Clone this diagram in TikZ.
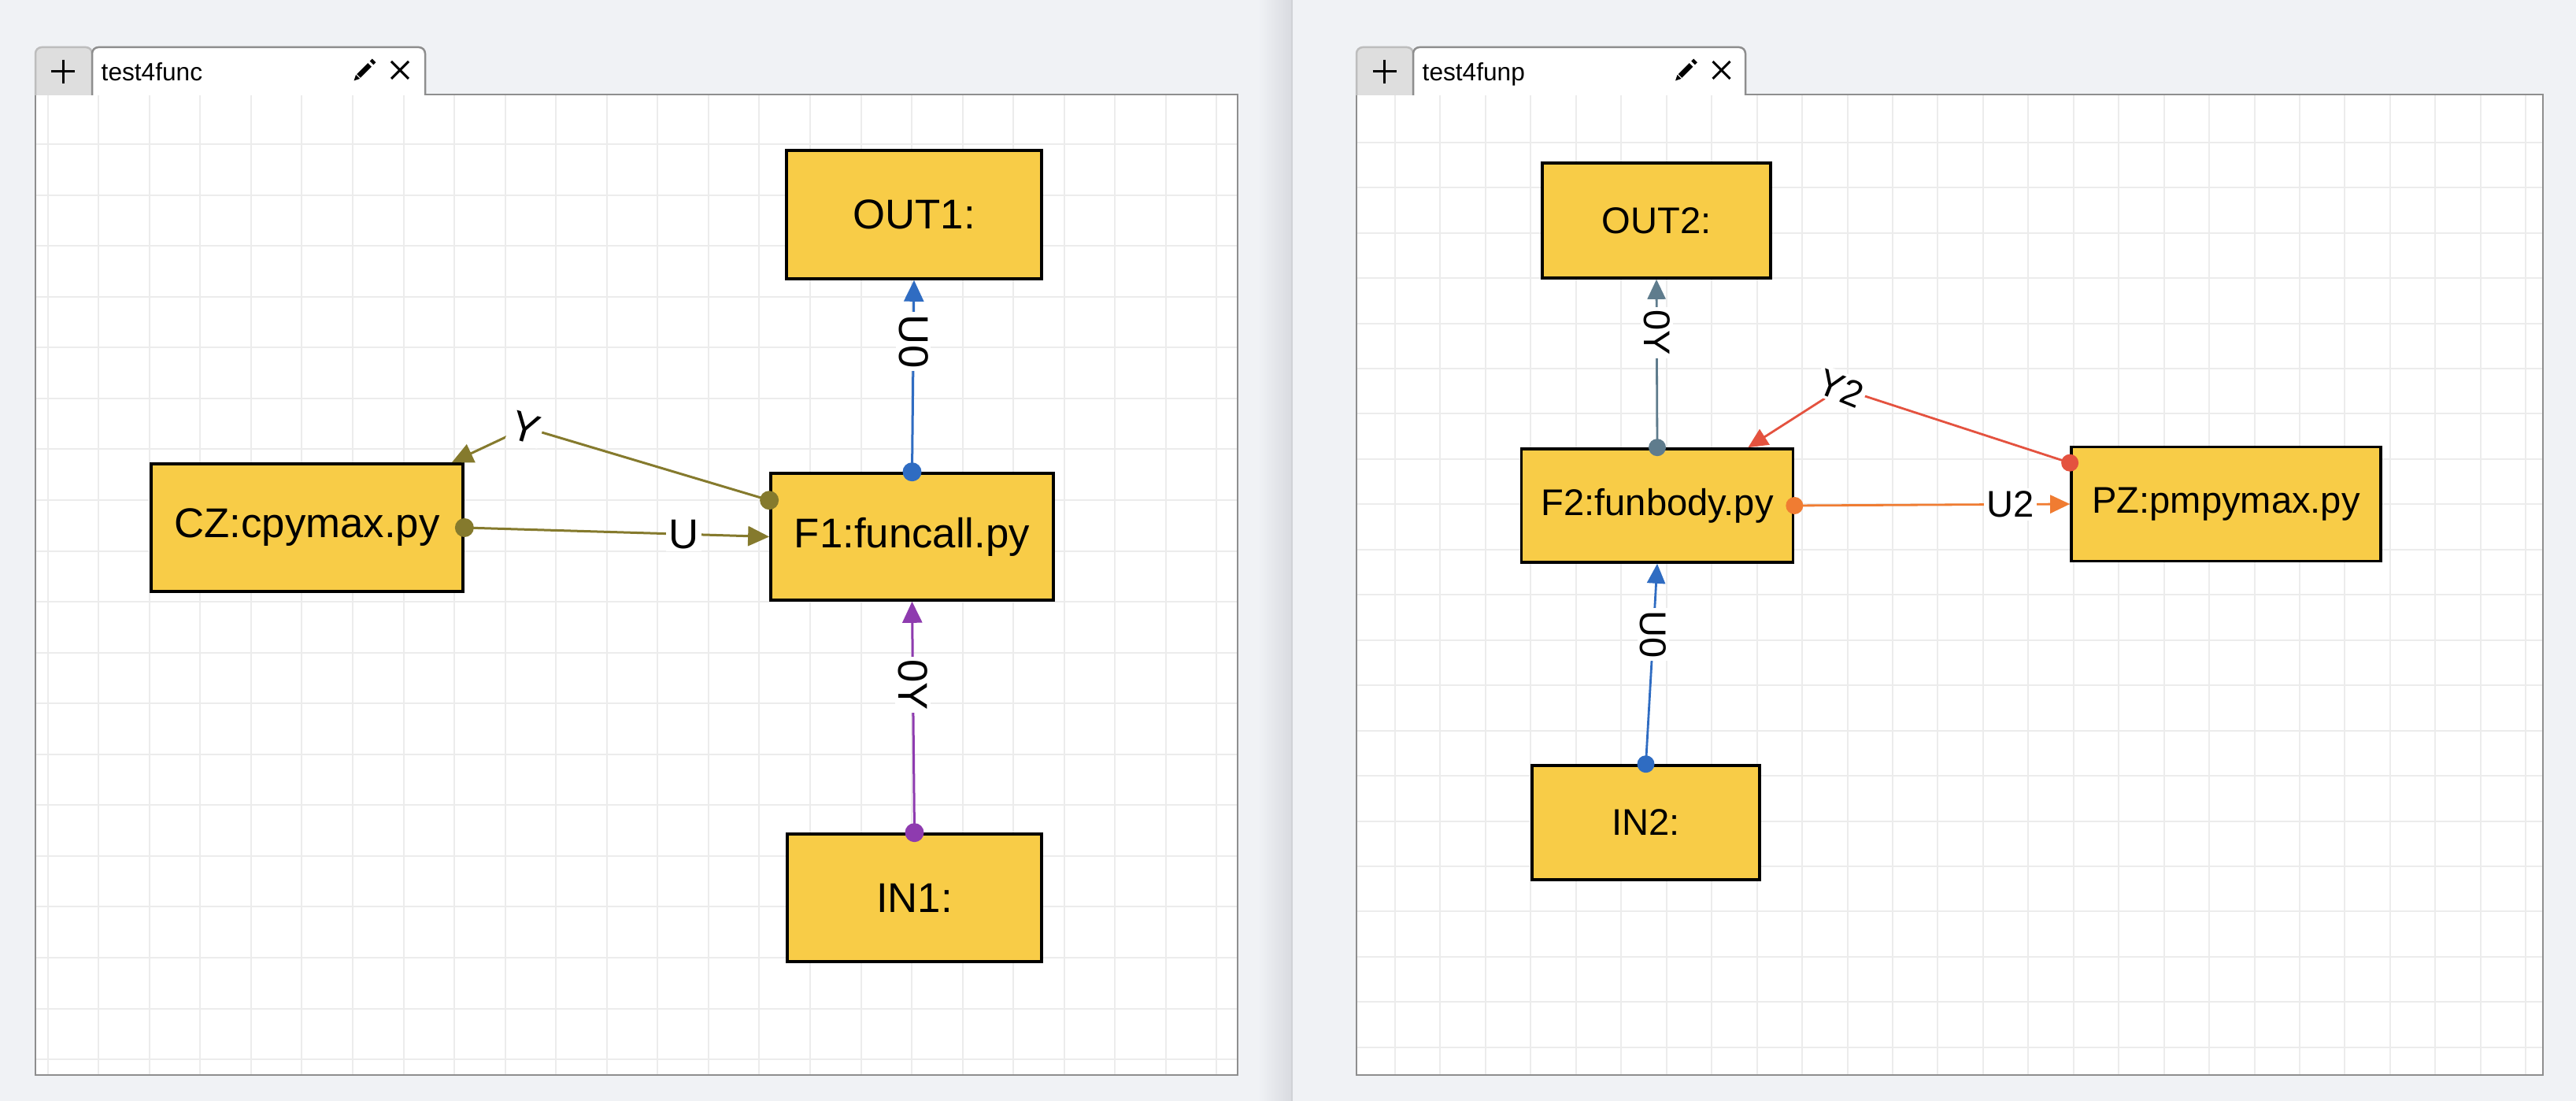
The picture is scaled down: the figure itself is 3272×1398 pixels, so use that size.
\documentclass[tikz,border=0pt]{standalone}
\usepackage{fontspec}
\setmainfont{Liberation Sans}
\usetikzlibrary{arrows.meta,calc}
\definecolor{bgc}{HTML}{F0F2F5}
\definecolor{divc}{HTML}{D9DBE0}
\definecolor{divline}{HTML}{D0D2D6}
\definecolor{gridc}{HTML}{ECECEC}
\definecolor{panelc}{HTML}{8E8E8E}
\definecolor{btnc}{HTML}{DEDEDE}
\definecolor{btnb}{HTML}{BDBDBD}
\definecolor{nodefill}{HTML}{F8CC47}
\definecolor{blueC}{HTML}{2F6CC2}
\definecolor{purpleC}{HTML}{8E3BAF}
\definecolor{oliveC}{HTML}{857A2D}
\definecolor{slateC}{HTML}{5F7C8D}
\definecolor{orangeC}{HTML}{F07C32}
\definecolor{redC}{HTML}{E4523F}
\begin{document}
\begin{tikzpicture}[x=0.01cm,y=-0.01cm,
  blk/.style={draw=black,line width=0.035cm,fill=nodefill,inner sep=0pt,font=\fontsize{15}{18}\selectfont},
  blkR/.style={blk,font=\fontsize{13.4}{16}\selectfont},
  conn/.style={line width=0.03cm,-{Triangle[length=0.27cm,width=0.25cm]}},
  connR/.style={line width=0.028cm,-{Triangle[length=0.25cm,width=0.23cm]}},
  lbl/.style={fill=white,inner sep=0.035cm,text=black,font=\fontsize{15}{18}\selectfont},
  lblR/.style={lbl,font=\fontsize{13.4}{16}\selectfont},
  gridline/.style={draw=gridc,line width=0.02cm},
  tabtext/.style={anchor=base west,inner sep=0pt,text=black,font=\fontsize{9}{11}\selectfont},
  panelline/.style={draw=panelc,line width=0.025cm},
]
\useasboundingbox (0,0) rectangle (3272,1398);
\fill[bgc] (0,0) rectangle (3272,1398);
\shade[left color=bgc,right color=divc] (1598,0) rectangle (1640,1398);
\draw[divline,line width=0.02cm] (1641,0) -- (1641,1398);

% ---------- left panel ----------
\fill[white] (45,120) rectangle (1572,1365);
\foreach \i in {0,...,23} \draw[gridline] ({60.7+64.55*\i},121) -- ({60.7+64.55*\i},1364);
\foreach \i in {1,...,19} \draw[gridline] (46,{118.6+64.55*\i}) -- (1571,{118.6+64.55*\i});
\draw[panelline] (540,120) -- (1572,120) -- (1572,1365) -- (45,1365) -- (45,120);
\filldraw[fill=btnc,draw=btnb,line width=0.025cm,rounded corners=0.08cm] (45,121) -- (45,60) -- (117,60) -- (117,121);
\filldraw[fill=white,panelline,rounded corners=0.08cm] (117,121) -- (117,60) -- (540,60) -- (540,121);
\draw[line width=0.03cm] (65,91) -- (95,91) (80,76) -- (80,106);
\node[tabtext] (tab1) at (128,103) {test4func};
\draw[line width=0.065cm] (455.5,96.5) -- (469.5,82.5);
\draw[line width=0.065cm] (472,80) -- (475,77);
\fill (449.5,102.5) -- (452,95) -- (457,100) -- cycle;
\draw[line width=0.03cm] (497,78) -- (519,100) (497,100) -- (519,78);

% ---------- right panel ----------
\fill[white] (1723,120) rectangle (3230,1365);
\foreach \i in {0,...,25} \draw[gridline] ({1772+57.45*\i},121) -- ({1772+57.45*\i},1364);
\foreach \i in {0,...,20} \draw[gridline] (1724,{180.8+57.45*\i}) -- (3229,{180.8+57.45*\i});
\draw[panelline] (2217,120) -- (3230,120) -- (3230,1365) -- (1723,1365) -- (1723,120);
\filldraw[fill=btnc,draw=btnb,line width=0.025cm,rounded corners=0.08cm] (1723,121) -- (1723,60) -- (1795,60) -- (1795,121);
\filldraw[fill=white,panelline,rounded corners=0.08cm] (1795,121) -- (1795,60) -- (2217,60) -- (2217,121);
\draw[line width=0.03cm] (1743.5,91) -- (1773.5,91) (1758.5,76) -- (1758.5,106);
\node[tabtext] (tab2) at (1806,103) {test4funp};
\draw[line width=0.065cm] (2134,96.5) -- (2148,82.5);
\draw[line width=0.065cm] (2150.5,80) -- (2153.5,77);
\fill (2128,102.5) -- (2130.5,95) -- (2135.5,100) -- cycle;
\draw[line width=0.03cm] (2175.5,78) -- (2197.5,100) (2175.5,100) -- (2197.5,78);

% ---------- nodes left ----------
\node[blk,minimum width=3.24cm,minimum height=1.63cm] (OUT1) at (1161,272.5) {OUT1:};
\node[blk,minimum width=3.59cm,minimum height=1.61cm] (F1) at (1158.5,681.5) {F1:funcall.py};
\node[blk,minimum width=3.96cm,minimum height=1.62cm] (CZ) at (390,670) {CZ:cpymax.py};
\node[blk,minimum width=3.23cm,minimum height=1.62cm] (IN1) at (1161.5,1140) {IN1:};

% ---------- nodes right ----------
\node[blkR,minimum width=2.90cm,minimum height=1.46cm] (OUT2) at (2104,280) {OUT2:};
\node[blkR,minimum width=3.45cm,minimum height=1.44cm] (F2) at (2105,642) {F2:funbody.py};
\node[blkR,minimum width=3.93cm,minimum height=1.45cm] (PZ) at (2827.5,640) {PZ:pmpymax.py};
\node[blkR,minimum width=2.89cm,minimum height=1.45cm] (IN2) at (2090.5,1044.5) {IN2:};

% ---------- connectors left ----------
\draw[conn,blueC] (F1.north) -- node[lbl,pos=0.68,rotate=-90] (la) {U0} (OUT1.south);
\fill[blueC] (F1.north) circle[radius=0.12cm];

\draw[conn,purpleC] (IN1.north) -- node[lbl,pos=0.64,rotate=-90] (lb) {0Y} (F1.south);
\fill[purpleC] (IN1.north) circle[radius=0.12cm];

\draw[conn,oliveC] (CZ.east) -- node[lbl,pos=0.72] (lc) {U} (F1.west);
\fill[oliveC] (CZ.east) circle[radius=0.12cm];

\coordinate (F1y) at ($(F1.north west)+(0,36)$);
\coordinate (Ybend) at (668,543);
\coordinate (CZy) at ($(CZ.north east)+(-16,0)$);
\draw[conn,oliveC] (F1y) -- (Ybend) -- (CZy);
\node[lbl,rotate=-16.5] (ld) at (Ybend) {Y};
\fill[oliveC] (F1y) circle[radius=0.12cm];

% ---------- connectors right ----------
\draw[connR,slateC] (F2.north) -- node[lblR,pos=0.684,rotate=-90] (le) {0Y} (OUT2.south);
\fill[slateC] (F2.north) circle[radius=0.11cm];

\draw[connR,blueC] (IN2.north) -- node[lblR,pos=0.647,rotate=-90] (lf) {U0} (F2.south);
\fill[blueC] (IN2.north) circle[radius=0.11cm];

\draw[connR,orangeC] (F2.east) -- node[lblR,pos=0.784] (lg) {U2} (PZ.west);
\fill[orangeC] (F2.east) circle[radius=0.11cm];

\coordinate (PZy) at ($(PZ.north west)+(0,22)$);
\coordinate (Y2bend) at (2338,493);
\coordinate (F2y) at ($(F2.north east)+(-59,0)$);
\draw[connR,redC] (PZy) -- (Y2bend) -- (F2y);
\node[lblR,rotate=-22] (lh) at (Y2bend) {Y2};
\fill[redC] (PZy) circle[radius=0.11cm];
\end{tikzpicture}
\end{document}
